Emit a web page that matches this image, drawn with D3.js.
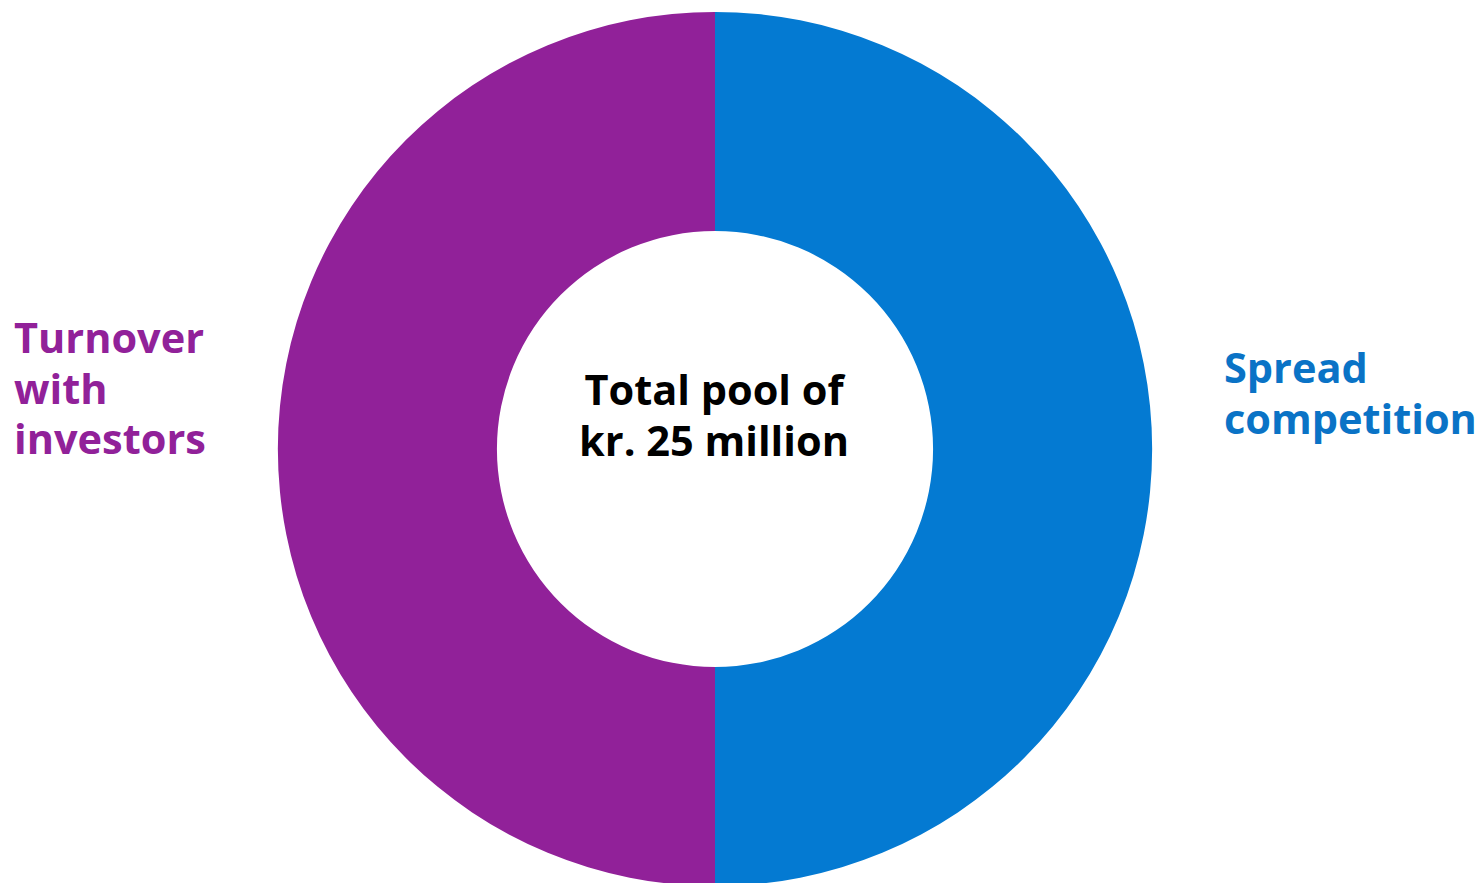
<!DOCTYPE html>
<html><head><meta charset="utf-8">
<script src="https://cdn.jsdelivr.net/npm/d3@7"></script>
<style>html,body{margin:0;padding:0;background:#fff;overflow:hidden}</style>
</head><body>
<svg id="chart" width="1479" height="883"></svg>
<script>
const categories = ["Spread competition", "Turnover with investors"];
const values = [50, 50];
const colors = ["#047AD2", "#912199"];
const labelColors = ["#0A73C6", "#912199"];
const labelLines = [["Spread", "competition"], ["Turnover", "with", "investors"]];
const centerLines = ["Total pool of", "kr. 25 million"];

const svg = d3.select("#chart");
const cx = 715, cy = 449, rOuter = 437, rInner = 218;
const pie = d3.pie().sort(null).value(d => d)(values);
const arc = d3.arc().innerRadius(rInner).outerRadius(rOuter);
const g = svg.append("g").attr("transform", `translate(${cx},${cy})`);
g.selectAll("path").data(pie).enter().append("path")
  .attr("d", arc).attr("fill", (d, i) => colors[i]);

const font = "'Open Sans', sans-serif";
const fs = 41.5, lh = 50.5;
const ct = svg.append("text").attr("text-anchor", "middle")
  .attr("font-family", font).attr("font-weight", 700).attr("font-size", fs).attr("fill", "#000");
centerLines.forEach((t, i) => ct.append("tspan").attr("x", cx - 1).attr("y", 405 + i * lh).text(t));

const labelPos = [{x: 1224, y: 383}, {x: 14, y: 353}];
labelLines.forEach((lines, k) => {
  const t = svg.append("text").attr("font-family", font).attr("font-weight", 700)
    .attr("font-size", fs).attr("fill", labelColors[k]);
  lines.forEach((s, i) => t.append("tspan").attr("x", labelPos[k].x).attr("y", labelPos[k].y + i * lh).text(s));
});
</script>
</body></html>
